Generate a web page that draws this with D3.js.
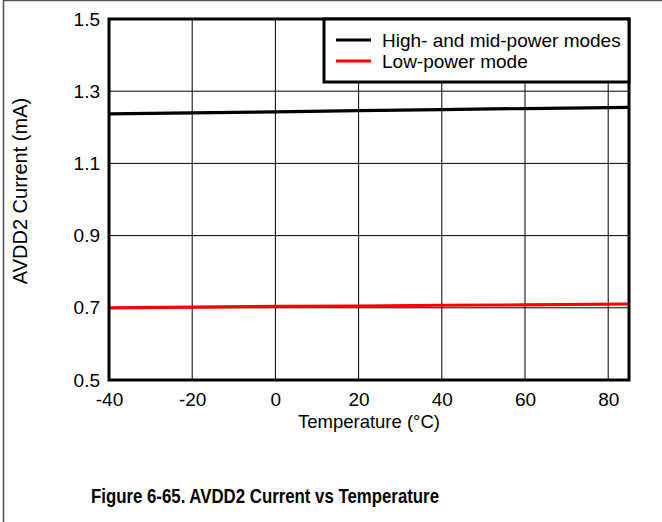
<!DOCTYPE html>
<html>
<head>
<meta charset="utf-8">
<script src="https://cdn.jsdelivr.net/npm/d3@7/dist/d3.min.js"></script>
<style>
  html, body { margin: 0; padding: 0; background: #fff; }
  svg { display: block; }
  text { font-family: "Liberation Sans", Arial, sans-serif; fill: #000; }
</style>
</head>
<body>
<svg id="chart" width="662" height="522"></svg>
<script>
// Temperature sweep (°C) and supply current (mA) per power mode
const temperature = [-40, -20, 0, 20, 40, 60, 85];
const highMidPower = [1.237, 1.240, 1.243, 1.246, 1.249, 1.252, 1.255];
const lowPower = [0.700, 0.702, 0.704, 0.705, 0.707, 0.708, 0.7105];

const xTicks = [-40, -20, 0, 20, 40, 60, 80];
const yTicks = [0.5, 0.7, 0.9, 1.1, 1.3, 1.5];

const seriesNames = ["High- and mid-power modes", "Low-power mode"];
const seriesColors = ["#000000", "#ff0000"];

const svg = d3.select("#chart");
const W = 662, H = 522;
const plot = { left: 109, right: 629, top: 19, bottom: 380 };

const x = d3.scaleLinear().domain([-40, 85]).range([plot.left, plot.right]);
const y = d3.scaleLinear().domain([0.5, 1.5]).range([plot.bottom, plot.top]);

// Page frame (top and left edges)
svg.append("path")
  .attr("d", `M3.5,${H} L3.5,0.5 L${W},0.5`)
  .attr("fill", "none")
  .attr("stroke", "#555")
  .attr("stroke-width", 1.6);

// Grid
const grid = svg.append("g");
grid.selectAll("line.v").data(xTicks.slice(1)).join("line")
  .attr("class", "v")
  .attr("x1", d => x(d)).attr("x2", d => x(d))
  .attr("y1", plot.top).attr("y2", plot.bottom)
  .attr("stroke", "#000").attr("stroke-width", 1);
grid.selectAll("line.h").data(yTicks.slice(1, -1)).join("line")
  .attr("class", "h")
  .attr("y1", d => y(d)).attr("y2", d => y(d))
  .attr("x1", plot.left).attr("x2", plot.right)
  .attr("stroke", "#000").attr("stroke-width", 1);

// Axes (labels only; the frame draws the axis lines)
const xAxis = svg.append("g")
  .attr("transform", `translate(0,${plot.bottom})`)
  .call(d3.axisBottom(x).tickValues(xTicks).tickSize(0).tickPadding(13)
    .tickFormat(d => String(d)));
xAxis.select(".domain").remove();
xAxis.selectAll("text").style("font-size", "19px").attr("font-family", null).attr("fill", "#000");

const yAxis = svg.append("g")
  .attr("transform", `translate(${plot.left},0)`)
  .call(d3.axisLeft(y).tickValues(yTicks).tickSize(0).tickPadding(9).tickFormat(d3.format(".1f")));
yAxis.select(".domain").remove();
yAxis.selectAll("text").style("font-size", "19px").attr("font-family", null).attr("fill", "#000");

// Data lines
const line = d3.line().x((d, i) => x(temperature[i])).y(d => y(d));
[highMidPower, lowPower].forEach((vals, k) => {
  svg.append("path")
    .datum(vals)
    .attr("d", line)
    .attr("fill", "none")
    .attr("stroke", seriesColors[k])
    .attr("stroke-width", 3.2);
});

// Plot frame
svg.append("rect")
  .attr("x", plot.left).attr("y", plot.top)
  .attr("width", plot.right - plot.left).attr("height", plot.bottom - plot.top)
  .attr("fill", "none").attr("stroke", "#000").attr("stroke-width", 3);

// Legend
const lg = { left: 324, top: 19, right: 629, bottom: 82 };
svg.append("rect")
  .attr("x", lg.left).attr("y", lg.top)
  .attr("width", lg.right - lg.left).attr("height", lg.bottom - lg.top)
  .attr("fill", "#fff").attr("stroke", "#000").attr("stroke-width", 3);
seriesNames.forEach((name, k) => {
  const ly = 40 + k * 21;
  svg.append("line")
    .attr("x1", 336).attr("x2", 371).attr("y1", ly).attr("y2", ly)
    .attr("stroke", seriesColors[k]).attr("stroke-width", 3.2);
  svg.append("text")
    .attr("x", 382).attr("y", ly + 7)
    .style("font-size", "19px")
    .text(name);
});

// Axis titles
svg.append("text")
  .attr("x", (plot.left + plot.right) / 2).attr("y", 428)
  .attr("text-anchor", "middle")
  .style("font-size", "18.5px")
  .text("Temperature (°C)");

svg.append("text")
  .attr("transform", `translate(27,191) rotate(-90)`)
  .attr("text-anchor", "middle")
  .style("font-size", "20px")
  .text("AVDD2 Current (mA)");

// Figure caption
svg.append("text")
  .attr("x", 265).attr("y", 503)
  .attr("text-anchor", "middle")
  .attr("textLength", 348)
  .attr("lengthAdjust", "spacingAndGlyphs")
  .style("font-weight", "bold")
  .style("font-size", "21px")
  .text("Figure 6-65. AVDD2 Current vs Temperature");
</script>
</body>
</html>
